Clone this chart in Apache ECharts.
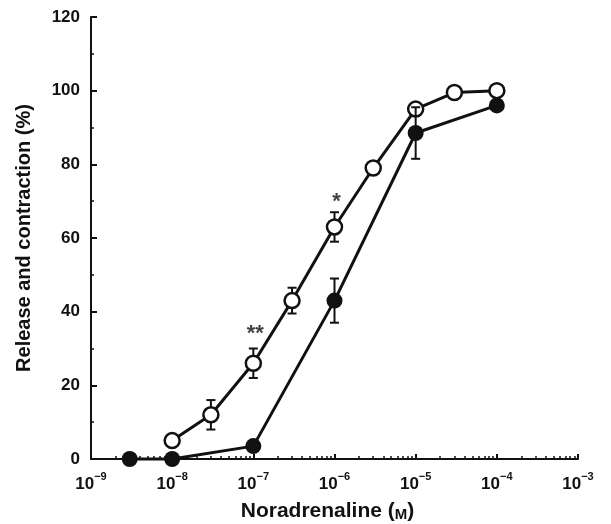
<!DOCTYPE html>
<html>
<head>
<meta charset="utf-8">
<script src="https://cdn.jsdelivr.net/npm/echarts@6/dist/echarts.min.js"></script>
<style>
  html, body { margin: 0; padding: 0; background: #fff; }
  #chart { width: 611px; height: 524px; }
</style>
</head>
<body>
<div id="chart"></div>
<script>
  // Open circles: noradrenaline release
  const OPEN_X = [1e-8, 3e-8, 1e-7, 3e-7, 1e-6, 3e-6, 1e-5, 3e-5, 1e-4];
  const OPEN_Y = [5, 12, 26, 43, 63, 79, 95, 99.5, 100];
  const OPEN_ERR = [0, 4, 4, 3.5, 4, 1.5, 1.5, 0, 0];
  // Filled circles: contraction
  const FILLED_X = [3e-9, 1e-8, 1e-7, 1e-6, 1e-5, 1e-4];
  const FILLED_Y = [0, 0, 3.5, 43, 88.5, 96];
  const FILLED_ERR = [0, 0, 0, 6, 7, 1];
  // significance marks: [x, y, text]
  const STARS = [[1e-7, 35, "**"], [1e-6, 71, "*"]];

  const X_DECADES = [-9, -8, -7, -6, -5, -4, -3];

  const INK = "#111";
  const FONT = "Liberation Sans";

  const majorX = X_DECADES.map((e) => Math.pow(10, e));
  const minorX = [];
  X_DECADES.slice(0, -1).forEach((e) => {
    for (let k = 2; k <= 9; k++) minorX.push(k * Math.pow(10, e));
  });

  function pairs(xs, ys) { return xs.map((x, i) => [x, ys[i]]); }
  function errRows(xs, ys, es) {
    return xs.map((x, i) => [x, ys[i] - es[i], ys[i] + es[i]]).filter((r, i) => es[i] > 0);
  }

  function errItem(params, api) {
    const x = api.value(0);
    const lo = api.coord([x, api.value(1)]);
    const hi = api.coord([x, api.value(2)]);
    const w = 4.5;
    const st = { stroke: INK, lineWidth: 2 };
    return {
      type: "group",
      children: [
        { type: "line", shape: { x1: hi[0], y1: hi[1], x2: lo[0], y2: lo[1] }, style: st },
        { type: "line", shape: { x1: hi[0] - w, y1: hi[1], x2: hi[0] + w, y2: hi[1] }, style: st },
        { type: "line", shape: { x1: lo[0] - w, y1: lo[1], x2: lo[0] + w, y2: lo[1] }, style: st },
      ],
    };
  }

  const inst = echarts.init(document.getElementById("chart"), null, { renderer: "canvas" });

  const xLabel = {
    fontFamily: FONT, fontWeight: "bold", color: INK, margin: 12,
    formatter: (v) => "{b|10}{s|" + "\u2212" + Math.abs(Math.round(Math.log10(v))) + "}",
    rich: {
      b: { fontFamily: FONT, fontWeight: "bold", fontSize: 17, color: INK, verticalAlign: "bottom", lineHeight: 22 },
      s: { fontFamily: FONT, fontWeight: "bold", fontSize: 11, color: INK, verticalAlign: "top", lineHeight: 22 },
    },
  };

  inst.setOption({
    animation: false,
    grid: { left: 91, right: 33, top: 17, bottom: 65, containLabel: false, outerBoundsMode: "none" },
    xAxis: [
      {
        type: "log", logBase: 10, min: 1e-9, max: 1e-3, position: "bottom",
        name: "Noradrenaline ({m|M})", nameLocation: "middle", nameGap: 42,
        nameTextStyle: {
          fontFamily: FONT, fontWeight: "bold", fontSize: 21, color: INK,
          padding: [0, 14, 0, 0],
          rich: { m: { fontFamily: FONT, fontWeight: "bold", fontSize: 15, color: INK, verticalAlign: "bottom" } },
        },
        axisLine: { lineStyle: { color: INK, width: 2 } },
        axisTick: { inside: true, length: 5, lineStyle: { color: INK, width: 2 }, customValues: majorX },
        axisLabel: Object.assign({ customValues: majorX }, xLabel),
        splitLine: { show: false },
      },
      {
        type: "log", logBase: 10, min: 1e-9, max: 1e-3, position: "bottom",
        axisLine: { show: false },
        axisTick: { inside: true, length: 3, lineStyle: { color: INK, width: 1.5 }, customValues: minorX },
        axisLabel: { show: false },
        splitLine: { show: false },
      },
    ],
    yAxis: {
      type: "value", min: 0, max: 120, interval: 20,
      name: "Release and contraction (%)", nameLocation: "middle", nameGap: 57,
      nameTextStyle: { fontFamily: FONT, fontWeight: "bold", fontSize: 20, color: INK },
      axisLine: { show: true, lineStyle: { color: INK, width: 2 } },
      axisTick: { show: true, inside: true, length: 6, lineStyle: { color: INK, width: 2 } },
      minorTick: { show: true, splitNumber: 2, length: 3, lineStyle: { color: INK, width: 1.5 } },
      axisLabel: { fontFamily: FONT, fontWeight: "bold", fontSize: 17, color: INK, margin: 11 },
      splitLine: { show: false },
    },
    series: [
      {
        name: "open-err", type: "custom", renderItem: errItem, z: 1,
        data: errRows(OPEN_X, OPEN_Y, OPEN_ERR), clip: false,
      },
      {
        name: "Filled", type: "line", data: pairs(FILLED_X, FILLED_Y), z: 2,
        symbol: "circle", symbolSize: 16, clip: false,
        lineStyle: { color: INK, width: 3 },
        itemStyle: { color: INK, borderColor: INK, borderWidth: 0 },
      },
      {
        name: "Open", type: "line", data: pairs(OPEN_X, OPEN_Y), z: 3,
        symbol: "circle", symbolSize: 15, clip: false,
        lineStyle: { color: INK, width: 3 },
        itemStyle: { color: "#fff", borderColor: INK, borderWidth: 2.5 },
      },
      {
        name: "filled-err", type: "custom", renderItem: errItem, z: 4,
        data: errRows(FILLED_X, FILLED_Y, FILLED_ERR), clip: false,
      },
      {
        name: "stars", type: "scatter", symbolSize: 0, z: 5,
        data: STARS.map((s) => ({ value: [s[0], s[1]], label: { formatter: s[2] } })),
        label: {
          show: true, position: "inside", color: INK, offset: [2, 4],
          fontFamily: FONT, fontWeight: "bold", fontSize: 22,
        },
      },
    ],
  });
</script>
</body>
</html>
